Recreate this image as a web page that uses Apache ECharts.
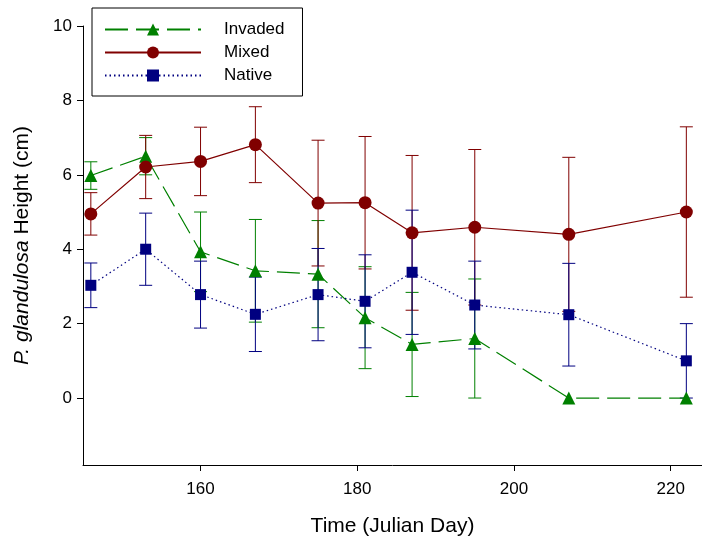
<!DOCTYPE html>
<html>
<head>
<meta charset="utf-8">
<script src="https://cdn.jsdelivr.net/npm/echarts@6/dist/echarts.min.js"></script>
<style>
html,body{margin:0;padding:0;background:#fff;}
#chart{width:702px;height:543px;}
</style>
</head>
<body>
<div id="chart"></div>
<script>
// Julian days
const days = [146, 153, 160, 167, 175, 181, 187, 195, 207, 222];
// Means
const invadedMean = [5.98, 6.50, 3.93, 3.42, 3.33, 2.16, 1.44, 1.60, 0, 0];
const mixedMean   = [4.95, 6.21, 6.36, 6.81, 5.24, 5.25, 4.44, 4.59, 4.40, 5.00];
const nativeMean  = [3.03, 4.00, 2.78, 2.25, 2.78, 2.60, 3.38, 2.50, 2.24, 1.00];
// Error (+/-)
const invadedErr = [0.37, 0.50, 1.07, 1.38, 1.44, 1.37, 1.40, 1.60, 0, 0];
const mixedErr   = [0.57, 0.85, 0.92, 1.02, 1.69, 1.78, 2.08, 2.09, 2.07, 2.29];
const nativeErr  = [0.60, 0.97, 0.90, 1.00, 1.24, 1.25, 1.67, 1.18, 1.38, 1.00];
// Tick labels
const xTicks = [160, 180, 200, 220];
const yTicks = [0, 2, 4, 6, 8, 10];

const FONT = 'Liberation Sans, Arial, sans-serif';
const cInv = '#008000', cMix = '#800000', cNat = '#000080';

function pts(means) { return days.map((d, i) => [d, means[i]]); }
function errData(means, errs) {
  return days.map((d, i) => [d, means[i] - errs[i], means[i] + errs[i]]);
}
function errSeries(name, means, errs, color) {
  return {
    type: 'custom',
    name: name + ' err',
    z: 1,
    silent: true,
    data: errData(means, errs),
    renderItem: function (params, api) {
      const x = api.value(0), lo = api.value(1), hi = api.value(2);
      if (hi - lo <= 0) return null;
      const p1 = api.coord([x, lo]), p2 = api.coord([x, hi]);
      const hw = 6.5;
      const st = { stroke: color, lineWidth: 1 };
      return {
        type: 'group',
        children: [
          { type: 'line', shape: { x1: p1[0], y1: p1[1], x2: p2[0], y2: p2[1] }, style: st },
          { type: 'line', shape: { x1: p1[0] - hw, y1: p1[1], x2: p1[0] + hw, y2: p1[1] }, style: st },
          { type: 'line', shape: { x1: p2[0] - hw, y1: p2[1], x2: p2[0] + hw, y2: p2[1] }, style: st }
        ]
      };
    }
  };
}

const chart = echarts.init(document.getElementById('chart'), null, { renderer: 'canvas' });
chart.setOption({
  animation: false,
  backgroundColor: '#fff',
  grid: { left: 83, top: 26, width: 621, height: 439, containLabel: false },
  legend: {
    orient: 'vertical',
    left: 92, top: 8,
    width: 210,
    padding: [13, 18, 12, 12],
    borderColor: '#000', borderWidth: 1,
    itemWidth: 96, itemHeight: 15, itemGap: 6,
    textStyle: { fontFamily: FONT, fontSize: 17, color: '#000', padding: [0, 0, 0, 18] },
    data: ['Invaded', 'Mixed', 'Native']
  },
  xAxis: {
    type: 'value', min: 145, max: 224,
    name: 'Time (Julian Day)', nameLocation: 'middle', nameGap: 51,
    nameTextStyle: { fontFamily: FONT, fontSize: 21, color: '#000' },
    axisLine: { show: true, onZero: false, lineStyle: { color: '#000', width: 1 } },
    axisTick: { show: true, customValues: xTicks, length: 6, lineStyle: { color: '#000' } },
    axisLabel: { customValues: xTicks, fontFamily: FONT, fontSize: 17, color: '#000', margin: 16 },
    splitLine: { show: false }
  },
  yAxis: {
    type: 'value', min: -1.8, max: 10,
    name: '{i|P. glandulosa} Height (cm)', nameLocation: 'middle', nameGap: 50,
    nameTextStyle: { fontFamily: FONT, fontSize: 21, color: '#000',
      rich: { i: { fontStyle: 'italic', fontFamily: FONT, fontSize: 21, color: '#000' } } },
    axisLine: { show: true, onZero: false, lineStyle: { color: '#000', width: 1 } },
    axisTick: { show: true, customValues: yTicks, length: 6, lineStyle: { color: '#000' } },
    axisLabel: { customValues: yTicks, fontFamily: FONT, fontSize: 17, color: '#000', margin: 11 },
    splitLine: { show: false }
  },
  series: [
    errSeries('Invaded', invadedMean, invadedErr, cInv),
    errSeries('Mixed', mixedMean, mixedErr, cMix),
    errSeries('Native', nativeMean, nativeErr, cNat),
    {
      type: 'line', name: 'Invaded', data: pts(invadedMean), z: 3,
      symbol: 'triangle', symbolSize: 13,
      itemStyle: { color: cInv },
      lineStyle: { color: cInv, width: 1.2, type: [23, 8] }
    },
    {
      type: 'line', name: 'Mixed', data: pts(mixedMean), z: 3,
      symbol: 'circle', symbolSize: 13,
      itemStyle: { color: cMix },
      lineStyle: { color: cMix, width: 1.2, type: 'solid' }
    },
    {
      type: 'line', name: 'Native', data: pts(nativeMean), z: 3,
      symbol: 'rect', symbolSize: 11,
      itemStyle: { color: cNat },
      lineStyle: { color: cNat, width: 1.2, type: [1.5, 3] }
    }
  ]
});
</script>
</body>
</html>
